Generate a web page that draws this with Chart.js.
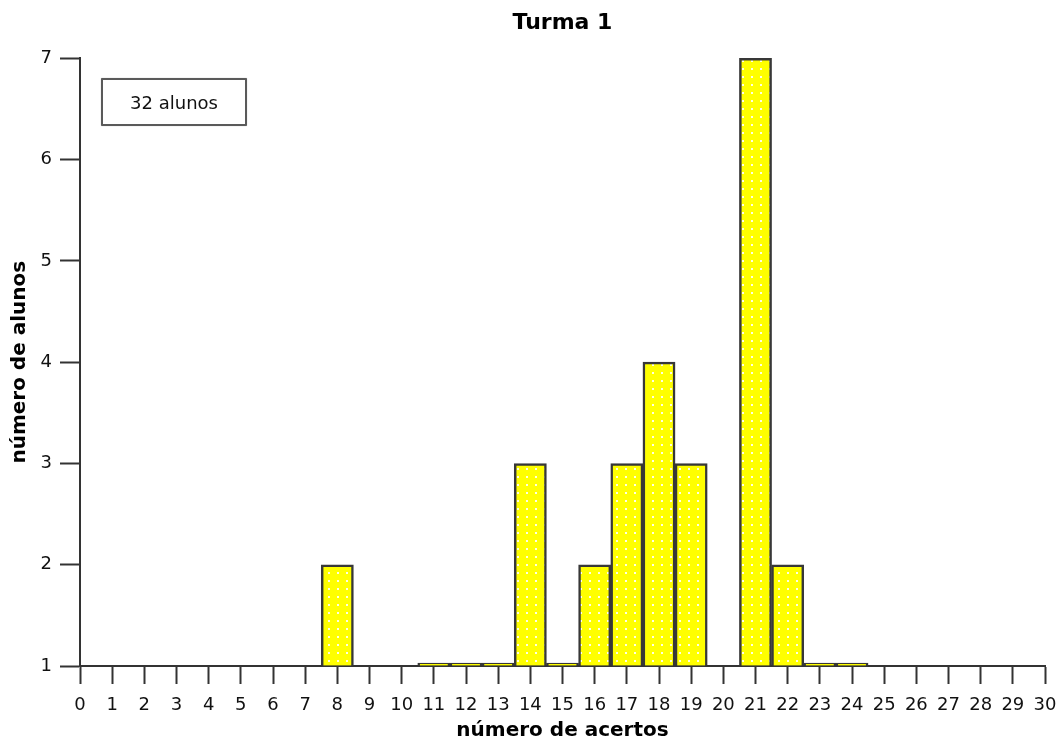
<!DOCTYPE html>
<html>
<head>
<meta charset="utf-8">
<script src="https://cdn.jsdelivr.net/npm/chart.js@4"></script>
<style>
html,body{margin:0;padding:0;background:#fff;}
#wrap{position:relative;width:1057px;height:743px;}
#box{position:absolute;left:101px;top:78px;width:146px;height:48px;border:2px solid #5a5a5a;box-sizing:border-box;
 font:18px "DejaVu Sans",Verdana,sans-serif;color:#111;display:flex;align-items:center;justify-content:center;
 box-shadow:0 0 1px #999;border-radius:1px;background:#fff;}
</style>
</head>
<body>
<div id="wrap">
<canvas id="c" width="1057" height="743"></canvas>
<div id="box">32 alunos</div>
</div>
<script>
const categories = ['0','1','2','3','4','5','6','7','8','9','10','11','12','13','14','15','16','17','18','19','20','21','22','23','24','25','26','27','28','29','30'];
const alunos = [null,null,null,null,null,null,null,null,2,null,null,1,1,1,3,1,2,3,4,3,null,7,2,1,1,null,null,null,null,null,null];
const yMin = 1;
const yMax = 7;
const chartTitle = 'Turma 1';
const xTitle = 'número de acertos';
const yTitle = 'número de alunos';

function dotPattern(){
  const p = document.createElement('canvas');
  p.width = 9; p.height = 8;
  const g = p.getContext('2d');
  g.fillStyle = '#ffff00';
  g.fillRect(0,0,9,8);
  g.fillStyle = '#ffffe6';
  g.fillRect(4,4,2,2);
  return g.createPattern(p,'repeat');
}

const FONT = '"DejaVu Sans", Verdana, sans-serif';
const dark = '#333333';

new Chart(document.getElementById('c'), {
  type: 'bar',
  data: {
    labels: categories,
    datasets: [{
      data: alunos,
      base: yMin,
      backgroundColor: dotPattern(),
      borderColor: '#383838',
      borderWidth: 2.5,
      barPercentage: 1,
      categoryPercentage: 1,
      minBarLength: 3,
      clip: false
    }]
  },
  options: {
    responsive: false,
    animation: false,
    layout: { padding: { right: 0, left: 0, top: 0, bottom: 0 } },
    plugins: {
      legend: { display: false },
      tooltip: { enabled: false },
      title: {
        display: true,
        text: chartTitle,
        fullSize: false,
        color: '#000',
        font: { family: FONT, size: 22, weight: 'bold' },
        padding: { top: 10, bottom: 22 }
      }
    },
    scales: {
      x: {
        type: 'category',
        offset: false,
        grid: { offset: false, drawOnChartArea: false, drawTicks: true, tickLength: 18, tickWidth: 2, tickColor: dark, color: dark },
        border: { color: dark, width: 2 },
        ticks: { color: '#111', font: { family: FONT, size: 18 }, padding: 11, maxRotation: 0, autoSkip: false },
        title: { display: true, text: xTitle, color: '#000', font: { family: FONT, size: 20, weight: 'bold' }, padding: { top: 0, bottom: 0 } },
        afterFit: s => { s.height = 77; s.paddingRight = 12; s.paddingLeft = 0; }
      },
      y: {
        min: yMin,
        max: yMax,
        grid: { drawOnChartArea: false, drawTicks: true, tickLength: 20, tickWidth: 2, tickColor: dark, color: dark },
        border: { color: dark, width: 2 },
        ticks: { stepSize: 1, color: '#111', font: { family: FONT, size: 18 }, padding: 8 },
        title: { display: true, text: yTitle, color: '#000', font: { family: FONT, size: 20, weight: 'bold' }, padding: { top: 8, bottom: 0 } },
        afterFit: s => { s.width = 80; }
      }
    }
  }
});
</script>
</body>
</html>
